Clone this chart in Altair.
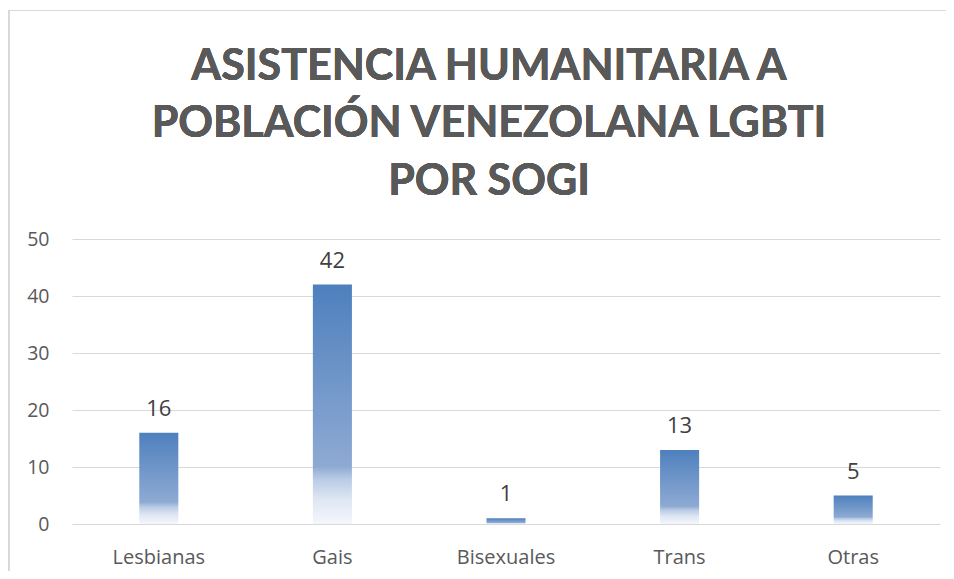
import altair as alt
import pandas as pd

categories = ["Lesbianas", "Gais", "Bisexuales", "Trans", "Otras"]
values = [16, 42, 1, 13, 5]
title_lines = ["ASISTENCIA HUMANITARIA A", "POBLACIÓN VENEZOLANA LGBTI", "POR SOGI"]
y_ticks = [0, 10, 20, 30, 40, 50]

df = pd.DataFrame({"cat": categories, "val": values})

W, H = 868, 285

grad = alt.Gradient(
    gradient="linear",
    x1=0, x2=0, y1=0, y2=1,
    stops=[
        alt.GradientStop(offset=0, color="#4e80bd"),
        alt.GradientStop(offset=0.76, color="#8eaad3"),
        alt.GradientStop(offset=0.81, color="#b7cae5"),
        alt.GradientStop(offset=0.9, color="#dfe7f3"),
        alt.GradientStop(offset=1, color="#f4f7fc"),
    ],
)

x_enc = alt.X(
    "cat:N", sort=categories, title=None,
    scale=alt.Scale(paddingInner=0.775, paddingOuter=0.3875),
    axis=alt.Axis(labelAngle=0, ticks=False, domain=False, grid=False,
                  labelFont="Open Sans", labelFontSize=20, labelColor="#595959",
                  labelBaseline="alphabetic", labelPadding=39),
)
y_enc = alt.Y(
    "val:Q", title=None,
    scale=alt.Scale(domain=[0, 50], nice=False),
    axis=alt.Axis(values=y_ticks, ticks=False, domain=False, grid=True,
                  gridColor="#d9d9d9", gridWidth=1,
                  labelFont="Open Sans", labelFontSize=19.5, labelColor="#595959",
                  labelPadding=23),
)

bars = alt.Chart(df).mark_bar(color=grad).encode(x=x_enc, y=y_enc)

labels = alt.Chart(df).mark_text(
    font="Open Sans", fontSize=22, color="#404040", baseline="alphabetic", dy=-17
).encode(x=alt.X("cat:N", sort=categories), y="val:Q", text="val:Q")

frame_left = alt.Chart(df).mark_rule(color="#d9d9d9", strokeWidth=2).encode(
    x=alt.value(-63), y=alt.value(-229), y2=alt.value(400)
)
frame_top = alt.Chart(df).mark_rule(color="#d9d9d9", strokeWidth=1).encode(
    x=alt.value(-64), x2=alt.value(W + 20), y=alt.value(-228.5)
)

title_baselines = [-159, -102, -44]
title_marks = [
    alt.Chart(df).mark_text(
        text=line, font="Lato, Open Sans, sans-serif", fontSize=43, fontWeight="bold",
        color="#595959", align="center", baseline="alphabetic",
    ).encode(x=alt.value(417), y=alt.value(yb))
    for line, yb in zip(title_lines, title_baselines)
]

chart = (
    alt.layer(frame_left, frame_top, bars, labels, *title_marks)
    .properties(
        width=W, height=H,
        autosize=alt.AutoSizeParams(type="none"),
        padding={"left": 64, "top": 231, "right": 6, "bottom": 47},
    )
    .configure(background="white", view=alt.ViewConfig(strokeWidth=0, stroke="transparent"))
)

chart.save("out.html", embed_options={"renderer": "svg", "actions": False})
